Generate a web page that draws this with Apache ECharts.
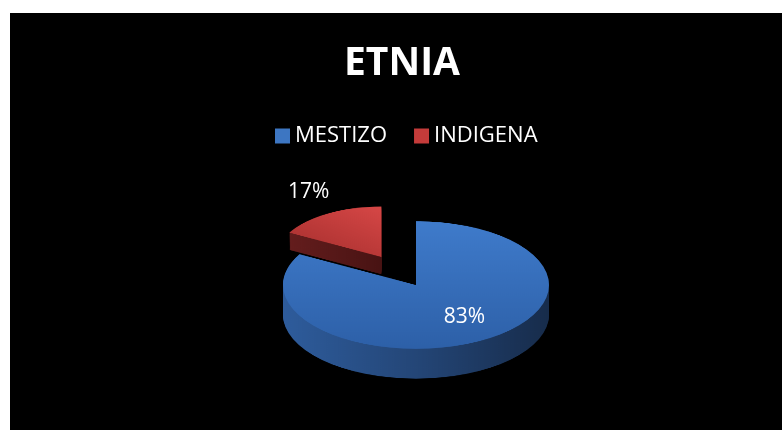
<!DOCTYPE html>
<html>
<head>
<meta charset="utf-8">
<script src="https://cdn.jsdelivr.net/npm/echarts@6/dist/echarts.min.js"></script>
<style>
    html, body { margin: 0; padding: 0; background: #fff; width: 782px; height: 430px; overflow: hidden; }
    .stage { position: absolute; left: 10px; top: 13px; width: 772px; height: 417px; background: #000; overflow: hidden; }
    .pie3d { position: absolute; left: 0; top: 0; width: 772px; height: 869px; transform: scaleY(0.48); transform-origin: 0 0; }
    .front { position: absolute; left: 0; top: 0; width: 772px; height: 417px; }
</style>
</head>
<body>
<div class="stage">
    <div class="pie3d"></div>
    <div class="front"></div>
</div>
<script>
var titleText = 'ETNIA';
var categories = ['MESTIZO', 'INDIGENA'];
var values = [83, 17];

// 颜色
var topColors = [
    { type: 'linear', x: 0, y: 0, x2: 0, y2: 1, colorStops: [{ offset: 0, color: '#3f7bcb' }, { offset: 1, color: '#2d60a8' }] },
    { type: 'linear', x: 1, y: 0, x2: 0, y2: 1, colorStops: [{ offset: 0, color: '#d64746' }, { offset: 1, color: '#a42e2d' }] }
];
var sideColors = [
    { type: 'linear', x: 0, y: 0, x2: 1, y2: 0, colorStops: [{ offset: 0, color: '#2e5c9c' }, { offset: 0.5, color: '#244677' }, { offset: 1, color: '#172c4b' }] },
    { type: 'linear', x: 0, y: 0, x2: 1, y2: 0, colorStops: [{ offset: 0, color: '#641d1d' }, { offset: 1, color: '#481313' }] }
];
var legendColors = ['#3d76c2', '#c43b3a'];
// 每块的半径和厚度 (透视效果: 后面的块小一点)
var sliceRadius = [133, 105];
var sliceDepth = [62, 36];
var drawOrder = [1, 0];

// 3D 饼图 (压扁)
(function () {
    var myChart = echarts.init(document.querySelector('.pie3d'));
    var s = 0.48;
    var cx = 406;
    var cy = 272 / s;
    var step = 2;
    var series = [];
    function makeData(colors, only) {
        var arr = [];
        for (var i = 0; i < categories.length; i++) {
            arr.push({
                name: categories[i],
                value: values[i],
                selected: i === 1,
                itemStyle: { color: i === only ? colors[i] : 'rgba(0,0,0,0)' }
            });
        }
        return arr;
    }
    function layer(k, d, colors) {
        return {
            type: 'pie',
            silent: true,
            animation: false,
            radius: sliceRadius[k],
            center: [cx, cy + d],
            selectedMode: 'single',
            selectedOffset: 68,
            label: { show: false },
            labelLine: { show: false },
            data: makeData(colors, k)
        };
    }
    for (var n = 0; n < drawOrder.length; n++) {
        var k = drawOrder[n];
        for (var d = sliceDepth[k]; d > 0; d -= step) {
            series.push(layer(k, d, sideColors));
        }
        series.push(layer(k, 0, topColors));
    }
    myChart.setOption({
        backgroundColor: 'transparent',
        series: series
    });
})();

// 标题 图例 标签
(function () {
    var myChart = echarts.init(document.querySelector('.front'));
    var labelShift = [[13, -28], [-72, -33]];
    var legendData = [];
    var pieData = [];
    for (var i = 0; i < categories.length; i++) {
        legendData.push({ name: categories[i], itemStyle: { color: legendColors[i] } });
        pieData.push({ name: categories[i], value: values[i] });
    }
    var option = {
        backgroundColor: 'transparent',
        title: {
            text: titleText,
            left: 329,
            top: 26,
            textStyle: {
                color: '#fff',
                fontSize: 39,
                fontWeight: 'bold',
                fontFamily: 'Open Sans'
            }
        },
        legend: {
            data: legendData,
            left: 260,
            top: 107,
            icon: 'rect',
            itemWidth: 15,
            itemHeight: 15,
            itemGap: 27,
            textStyle: {
                color: '#fff',
                fontSize: 22,
                fontFamily: 'Open Sans'
            }
        },
        series: [{
            type: 'pie',
            silent: true,
            animation: false,
            radius: 133,
            center: [406, 272],
            itemStyle: { color: 'rgba(0,0,0,0)' },
            label: {
                show: true,
                position: 'inside',
                formatter: '{d}%',
                color: '#fff',
                fontSize: 21,
                fontFamily: 'Open Sans'
            },
            labelLine: { show: false },
            labelLayout: function (p) {
                return { dx: labelShift[p.dataIndex][0], dy: labelShift[p.dataIndex][1] };
            },
            data: pieData
        }]
    };
    myChart.setOption(option);
})();
</script>
</body>
</html>
